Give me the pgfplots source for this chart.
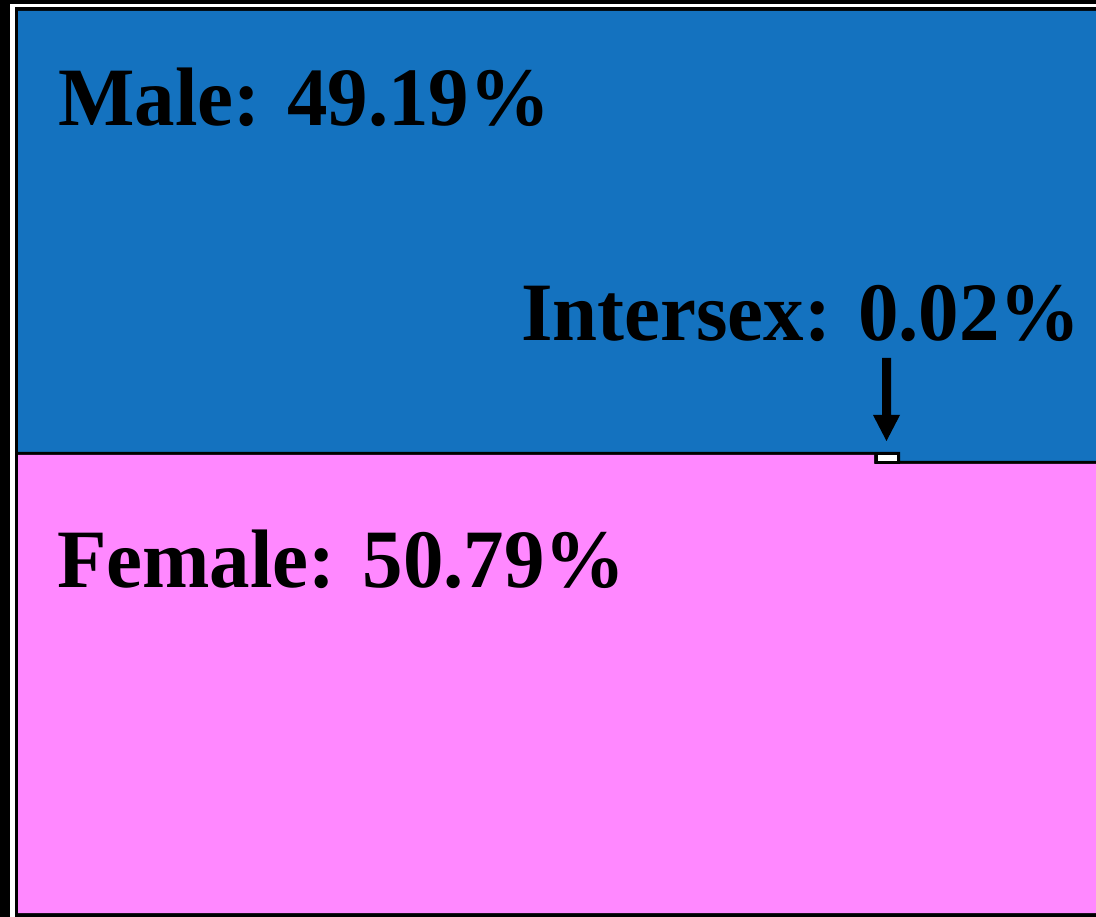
\documentclass[border=0pt]{standalone}
\usepackage{fontspec}
\setmainfont{Liberation Serif}
\usepackage{pgfplots}
\pgfplotsset{compat=1.18}
\definecolor{maleblue}{RGB}{20,114,191}
\definecolor{femalepink}{RGB}{255,136,255}
\begin{document}
\begin{tikzpicture}
\begin{axis}[
  width=1096pt, height=917pt, scale only axis,
  xmin=0, xmax=1096, ymin=0, ymax=917,
  y dir=reverse,
  hide axis, clip=false,
]
% background and frame
\addplot[fill=black, draw=none] coordinates {(0,0) (1096,0) (1096,917) (0,917)} -- cycle;
\addplot[fill=white, draw=none] coordinates {(10,4) (1096,4) (1096,917) (10,917)} -- cycle;
\addplot[fill=black, draw=none] coordinates {(15,7) (1096,7) (1096,917) (15,917)} -- cycle;
% Male (blue) region
\addplot[fill=maleblue, draw=none] coordinates {(18,11) (1096,11) (1096,461) (900,461) (900,452) (18,452)} -- cycle;
% boundary line (black)
\addplot[fill=black, draw=none] coordinates {(18,452) (900,452) (900,461) (1096,461) (1096,464) (874,464) (874,455) (18,455)} -- cycle;
% Female (pink) region
\addplot[fill=femalepink, draw=none] coordinates {(18,455) (874,455) (874,464) (1096,464) (1096,913) (18,913)} -- cycle;
% Intersex box
\addplot[fill=white, draw=black, line width=3pt] coordinates {(876,453.5) (898.5,453.5) (898.5,462.5) (876,462.5)} -- cycle;
% arrow
\addplot[fill=black, draw=none] coordinates {(882,358) (891,358) (891,415) (900,415) (886.5,441) (873,415) (882,415)} -- cycle;
% labels
\node[anchor=base west, inner sep=0pt, xscale=0.975, font=\fontsize{83}{90}\selectfont\bfseries] at (axis cs:58,126) {Male: 49.19\%};
\node[anchor=base west, inner sep=0pt, xscale=0.975, font=\fontsize{83}{90}\selectfont\bfseries] at (axis cs:521,341) {Intersex: 0.02\%};
\node[anchor=base west, inner sep=0pt, xscale=0.975, font=\fontsize{83}{90}\selectfont\bfseries] at (axis cs:57,587) {Female: 50.79\%};
\end{axis}
\end{tikzpicture}
\end{document}
